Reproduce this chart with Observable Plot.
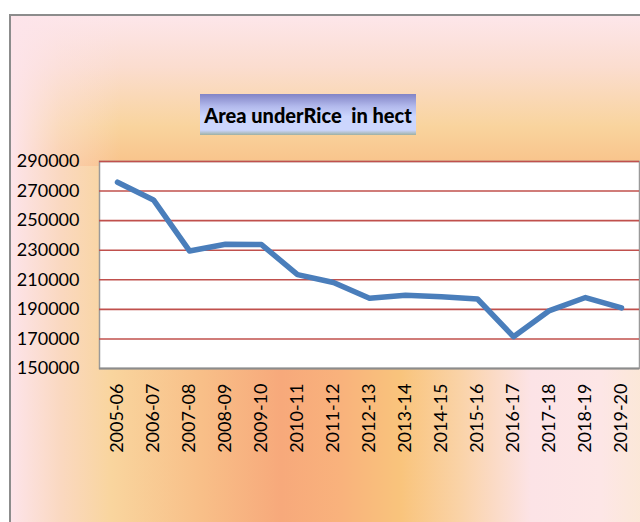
<!DOCTYPE html>
<html>
<head>
<meta charset="utf-8">
<script src="https://cdn.jsdelivr.net/npm/d3@7"></script>
<script src="https://cdn.jsdelivr.net/npm/@observablehq/plot@0.6"></script>
<style>
  html, body { margin: 0; padding: 0; background: #fff; }
  #wrap { position: relative; width: 640px; height: 522px; overflow: hidden; font-family: Lato, "Open Sans", sans-serif; }
  #bg { position: absolute; left: 9px; top: 14px; width: 640px; height: 520px;
        border-left: 2px solid #8c8c8c; border-top: 2px solid #8c8c8c;
        background: linear-gradient(to right, #fde4ea 0px, #fad8c0 50px, #f9d59e 100px, #f8bf88 190px, #f7a97b 270px, #f9b27c 330px, #f9c47c 390px, #fad3a8 450px, #fce3e6 520px, #fde6e6 590px, #fbe8d4 640px); }
  #bgtop { position: absolute; left: 11px; top: 16px; width: 640px; height: 150px;
        background: linear-gradient(to bottom, #fde6ea 0px, #fbddd0 50px, #f9d49e 110px, #f9c28a 150px); }
  #bgtopleft { position: absolute; left: 11px; top: 16px; width: 120px; height: 150px;
        background: linear-gradient(to right, rgba(253,228,234,1) 0px, rgba(253,228,234,0.4) 50px, rgba(253,228,234,0) 110px); }
  #plot { position: absolute; left: 0; top: 0; }
  #title { position: absolute; left: 200px; top: 94px; width: 216px; height: 41px;
        background: linear-gradient(to bottom, #8284c6 0%, #b2b9ec 30%, #ccd6fd 55%, #ccd6fd 88%, #9eb0a2 100%);
        font-family: Lato, "Open Sans", sans-serif; font-weight: 900; font-size: 20px; color: #000;
        display: flex; align-items: center; justify-content: center; white-space: pre; }
</style>
</head>
<body>
<div id="wrap">
  <div id="bg"></div>
  <div id="bgtop"></div>
  <div id="bgtopleft"></div>
  <div id="plot"></div>
  <div id="title">Area underRice  in hect</div>
</div>
<script>
const years = ["2005-06","2006-07","2007-08","2008-09","2009-10","2010-11","2011-12","2012-13","2013-14","2014-15","2015-16","2016-17","2017-18","2018-19","2019-20"];
const area = [276000, 264000, 229500, 234000, 233800, 213500, 208200, 197500, 199500, 198500, 197000, 171500, 189200, 198000, 191000];
const yTicks = [150000, 170000, 190000, 210000, 230000, 250000, 270000, 290000];
const gridTicks = [170000, 190000, 210000, 230000, 250000, 270000, 290000];

const data = years.map((y, i) => ({year: y, value: area[i]}));

const chart = Plot.plot({
  width: 640,
  height: 522,
  marginLeft: 99,
  marginRight: 1,
  marginTop: 161,
  marginBottom: 154,
  style: {background: "transparent", fontFamily: "Lato, 'Open Sans', sans-serif", color: "#000"},
  x: {type: "point", domain: years, padding: 0.5},
  y: {domain: [150000, 290000]},
  marks: [
    Plot.frame({fill: "white", stroke: "#9a9a9a", strokeWidth: 1.5}),
    Plot.ruleY(gridTicks, {stroke: "#c0504d", strokeWidth: 1.6}),
    Plot.ruleY([150000], {stroke: "#8c8c8c", strokeWidth: 2}),
    Plot.axisY(yTicks, {tickSize: 0, tickPadding: 20, fontSize: 18, label: null, tickFormat: d => String(d), fill: "#000"}),
    Plot.axisX({tickSize: 0, tickPadding: 15, tickRotate: -90, fontSize: 18, label: null, fill: "#000"}),
    Plot.line(data, {x: "year", y: "value", stroke: "#4a7ebb", strokeWidth: 5.5, strokeLinejoin: "round", strokeLinecap: "round"})
  ]
});
document.getElementById("plot").appendChild(chart);
</script>
</body>
</html>
